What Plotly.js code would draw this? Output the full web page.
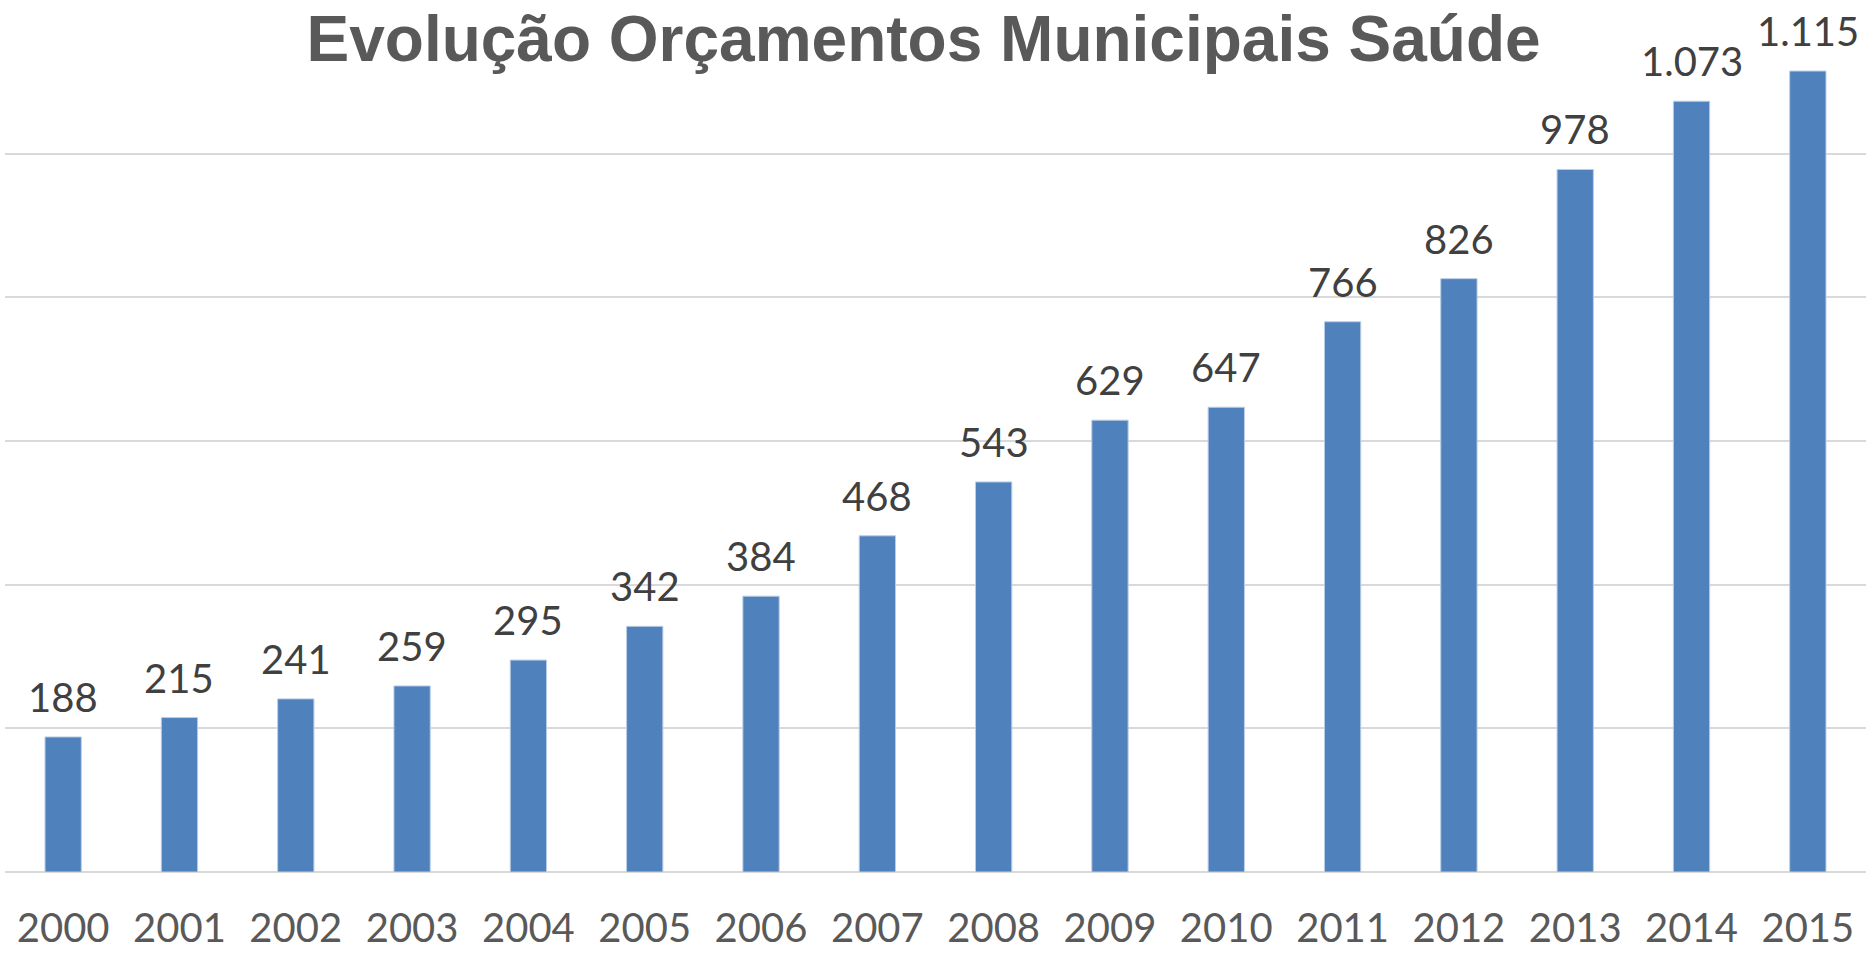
<!DOCTYPE html>
<html>
<head>
<meta charset="utf-8">
<script src="https://cdn.plot.ly/plotly-3.0.1.min.js"></script>
<style>html,body{margin:0;padding:0;background:#fff;}#chart{width:1868px;height:953px;}</style>
</head>
<body>
<div id="chart"></div>
<script>
const years = ['2000','2001','2002','2003','2004','2005','2006','2007','2008','2009','2010','2011','2012','2013','2014','2015'];
const values = [188,215,241,259,295,342,384,468,543,629,647,766,826,978,1073,1115];
const chartTitle = 'Evolução Orçamentos Municipais Saúde';

function fmt(v){ return String(v).replace(/\B(?=(\d{3})+(?!\d))/g, '.'); }

const trace = {
  type: 'bar', x: years, y: values,
  marker: {color: '#4F81BD', line: {color: '#B9CDE5', width: 1}},
  hoverinfo: 'skip'
};

const annotations = years.map((y, i) => ({
  x: i, y: values[i], xref: 'x', yref: 'y',
  text: fmt(values[i]), showarrow: false,
  xanchor: 'center', yanchor: 'bottom', yshift: 14,
  font: {family: 'Lato, sans-serif', size: 40, color: '#404040'}
}));

const layout = {
  width: 1868, height: 953,
  margin: {l: 5, r: 2, t: 10, b: 81},
  paper_bgcolor: '#fff', plot_bgcolor: '#fff',
  title: {text: '<b>' + chartTitle + '</b>', x: 0.4936, xref: 'paper', xanchor: 'center',
          y: 0.983, yref: 'container', yanchor: 'top',
          font: {family: 'Liberation Sans, Arial, sans-serif', size: 64, color: '#595959'}},
  bargap: 0.688,
  xaxis: {type: 'category', range: [-0.5, years.length - 0.5], autorange: false,
          showgrid: false, showline: false, ticks: '',
          tickfont: {family: 'Lato, sans-serif', size: 40, color: '#595959'},
          ticklabelstandoff: 29},
  yaxis: {range: [0, 1200], autorange: false, dtick: 200, showticklabels: false, showgrid: true,
          gridcolor: '#D9D9D9', gridwidth: 2, zeroline: true, zerolinecolor: '#D9D9D9', zerolinewidth: 2,
          showline: false, ticks: ''},
  showlegend: false,
  annotations: annotations
};

Plotly.newPlot('chart', [trace], layout, {displayModeBar: false, staticPlot: true});
</script>
</body>
</html>
